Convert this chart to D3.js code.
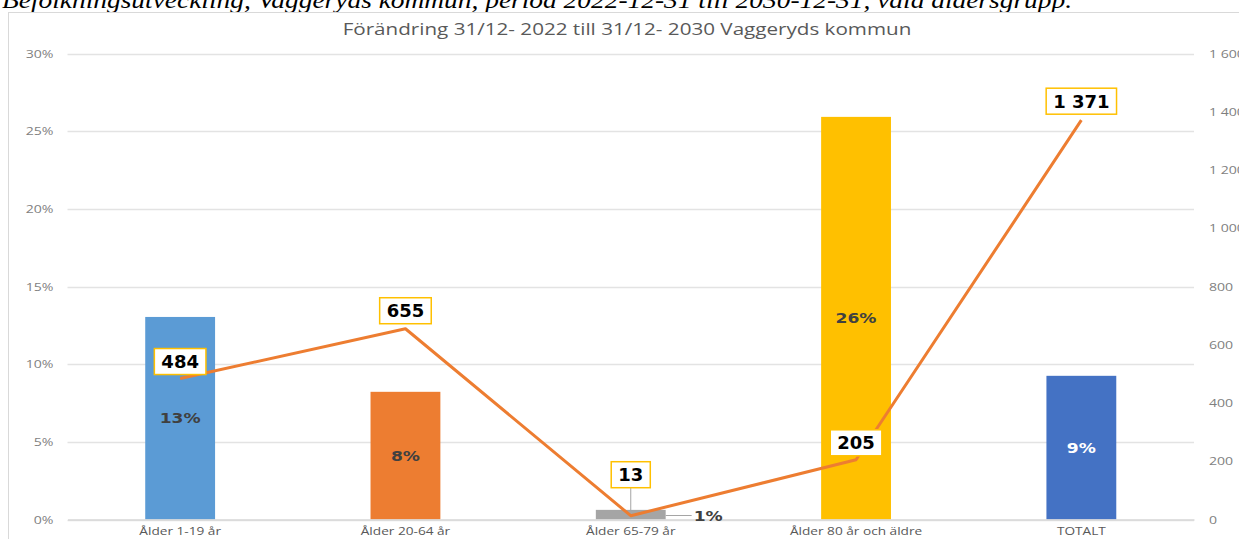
<!DOCTYPE html>
<html><head><meta charset="utf-8">
<script src="https://cdn.jsdelivr.net/npm/d3@7"></script>
<style>body{margin:0;background:#fff;overflow:hidden}</style>
</head><body>
<svg id="c" width="1239" height="539"></svg>
<script>
const categories = ["Ålder 1-19 år","Ålder 20-64 år","Ålder 65-79 år","Ålder 80 år och äldre","TOTALT"];
const percentChange = [0.1304, 0.0822, 0.0062, 0.2592, 0.0925];
const percentLabels = ["13%","8%","1%","26%","9%"];
const absChange = [484, 655, 13, 205, 1371];
const absLabels = ["484","655","13","205","1 371"];
const barColors = ["#5B9BD5","#ED7D31","#A5A5A5","#FFC000","#4472C4"];
const leftTicks = [0,0.05,0.10,0.15,0.20,0.25,0.30];
const rightTicks = [0,200,400,600,800,1000,1200,1400,1600];
const title = "Förändring 31/12- 2022 till 31/12- 2030 Vaggeryds kommun";
const caption = "Befolkningsutveckling, Vaggeryds kommun, period 2022-12-31 till 2030-12-31, vald åldersgrupp.";

const svg = d3.select("#c");
const plot = {left:67.5, right:1194, top:53.5, bottom:519.5};

function stretch(sel, f) {
  sel.each(function(){
    const L = this.getComputedTextLength();
    d3.select(this).attr("textLength", L*f).attr("lengthAdjust","spacingAndGlyphs");
  });
  return sel;
}

// caption (cut off at top, as in the source)
svg.append("text").attr("x",2).attr("y",8)
  .attr("font-family","Liberation Serif").attr("font-style","italic").attr("font-size",24)
  .attr("textLength",1070).attr("lengthAdjust","spacingAndGlyphs")
  .attr("fill","#000").text(caption);

// chart frame
svg.append("rect").attr("x",8.5).attr("y",12.5).attr("width",1240).attr("height",540)
  .attr("fill","none").attr("stroke","#D9D9D9");

stretch(svg.append("text").attr("x",627).attr("y",35).attr("text-anchor","middle")
  .attr("font-family","Open Sans").attr("font-size",15.5).attr("fill","#595959").text(title), 1.33);

const x = d3.scaleBand().domain(categories).range([plot.left, plot.right]).paddingInner(0.69).paddingOuter(0.345);
const yL = d3.scaleLinear().domain([0,0.30]).range([plot.bottom, plot.top]);
const yR = d3.scaleLinear().domain([0,1600]).range([plot.bottom, plot.top]);

// gridlines
svg.append("g").selectAll("line").data(leftTicks).join("line")
  .attr("x1",plot.left).attr("x2",plot.right)
  .attr("y1",d=>Math.round(yL(d))+0.5).attr("y2",d=>Math.round(yL(d))+0.5)
  .attr("stroke","#E3E3E3").attr("stroke-width",1.5);

// left axis
const la = svg.append("g").attr("transform",`translate(${plot.left},0)`)
  .call(d3.axisLeft(yL).tickValues(leftTicks).tickFormat(d3.format(".0%")).tickSize(0).tickPadding(14));
la.select(".domain").remove();
stretch(la.selectAll("text").attr("font-family","Open Sans").attr("font-size",11).attr("fill","#7F7F7F"), 1.28);

// right axis
const ra = svg.append("g").attr("transform",`translate(${plot.right},0)`)
  .call(d3.axisRight(yR).tickValues(rightTicks).tickFormat(d=>d3.format(",")(d).replace(/,/g," ")).tickSize(0).tickPadding(15));
ra.select(".domain").remove();
stretch(ra.selectAll("text").attr("font-family","Open Sans").attr("font-size",11).attr("fill","#7F7F7F"), 1.28);

// bars
svg.append("g").selectAll("rect").data(categories).join("rect")
  .attr("x",d=>x(d)).attr("width",x.bandwidth())
  .attr("y",(d,i)=>yL(percentChange[i])).attr("height",(d,i)=>plot.bottom-yL(percentChange[i]))
  .attr("fill",(d,i)=>barColors[i]);

// x axis
const xa = svg.append("g").attr("transform",`translate(0,${plot.bottom})`)
  .call(d3.axisBottom(x).tickSize(0).tickPadding(8));
xa.select(".domain").attr("stroke","#D9D9D9").attr("stroke-width",1.5);
stretch(xa.selectAll("text").attr("font-family","Open Sans").attr("font-size",11).attr("fill","#595959"), 1.24);

// bar labels
const cx = i => x(categories[i]) + x.bandwidth()/2;
percentLabels.forEach((t,i)=>{
  let tx = cx(i), ty = (yL(percentChange[i]) + plot.bottom)/2, anchor="middle";
  if (i===2) {
    tx = x(categories[i]) + x.bandwidth() + 28; ty = plot.bottom - 4; anchor="start";
    svg.append("line").attr("x1",x(categories[i])+x.bandwidth()).attr("x2",tx-2)
      .attr("y1",ty).attr("y2",ty).attr("stroke","#A5A5A5").attr("stroke-width",1);
  }
  stretch(svg.append("text").attr("x",tx).attr("y",ty).attr("dy","0.35em").attr("text-anchor",anchor)
    .attr("font-family","DejaVu Sans").attr("font-weight","bold").attr("font-size",14.5)
    .attr("fill", i===4 ? "#FFFFFF" : "#404040").text(t), 1.18);
});

// line
const line = d3.line().x((d,i)=>cx(i)).y(d=>yR(d));
svg.append("path").datum(absChange).attr("d",line)
  .attr("fill","none").attr("stroke","#ED7D31").attr("stroke-width",3).attr("stroke-linejoin","round");

// line labels
const gapAbove = [4, 5, 28, 4, 6];
absLabels.forEach((t,i)=>{
  const px = cx(i), py = yR(absChange[i]);
  const h = 26;
  const bottom = py - gapAbove[i];
  const txt = svg.append("text").attr("x",px).attr("y",bottom - h/2).attr("dy","0.36em")
    .attr("text-anchor","middle").attr("font-family","DejaVu Sans").attr("font-weight","bold")
    .attr("font-size",18).attr("fill","#000").text(t);
  const w = txt.node().getComputedTextLength() + 14;
  if (gapAbove[i] > 10) {
    svg.insert("line", "text").attr("x1",px).attr("x2",px).attr("y1",bottom).attr("y2",py)
      .attr("stroke","#A5A5A5").attr("stroke-width",1);
  }
  svg.insert("rect", () => txt.node()).attr("x",px - w/2).attr("y",bottom - h).attr("width",w).attr("height",h)
    .attr("fill","#fff").attr("stroke","#FFC000").attr("stroke-width",1.5);
});
</script>
</body></html>
